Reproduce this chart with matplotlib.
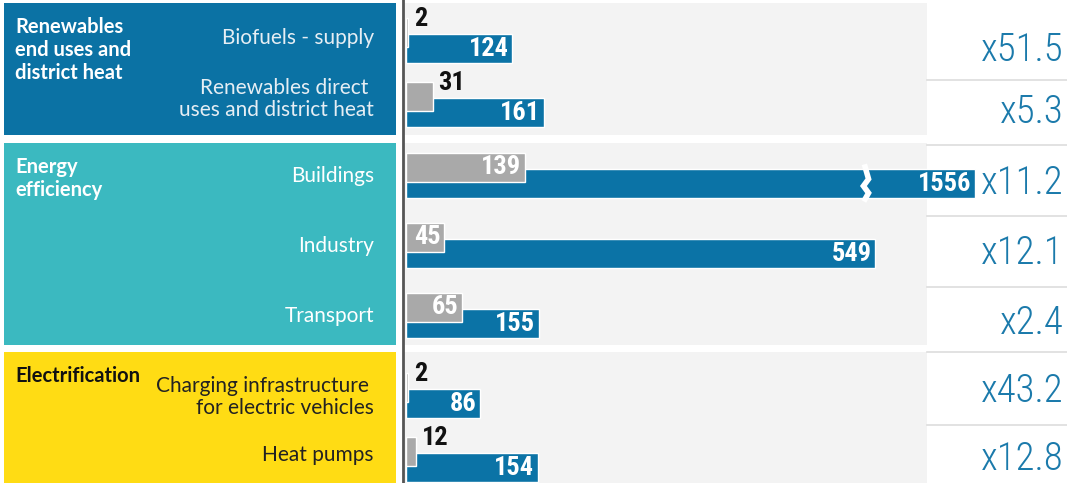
import matplotlib.pyplot as plt
from matplotlib.patches import Rectangle
from matplotlib import font_manager

# data
groups = ["Renewables\nend uses and\ndistrict heat", "Energy\nefficiency", "Electrification"]
rows = ["Biofuels - supply",
        "Renewables direct \nuses and district heat",
        "Buildings", "Industry", "Transport",
        "Charging infrastructure \nfor electric vehicles",
        "Heat pumps"]
before = [2, 31, 139, 45, 65, 2, 12]          # grey bars
after = [124, 161, 1556, 549, 155, 86, 154]   # blue bars
multiplier = ["x51.5", "x5.3", "x11.2", "x12.1", "x2.4", "x43.2", "x12.8"]

# styling / layout (pixel coordinates of a 1067x483 canvas)
W, H = 1067, 483
group_box = [(3, 135), (143, 345), (352, 483)]
group_col = ["#0b72a4", "#3bb9c0", "#ffdc14"]
group_txt = ["white", "white", "#111111"]
row_txt = ["#e6eef4", "#e6eef4", "white", "white", "white", "#222222", "#222222"]
row_y = [48, 112, 183, 253, 323, 403, 467]
label_y = [38, 99, 176, 246, 316, 397, 455]
mult_y = [50, 112, 183, 253, 323, 391, 459]
sep_y = [80, 145, 216, 287, 352, 425]
BLUE = "#0b73a6"
GREY = "#a9a9a9"
px_per_unit = 0.855
cap = 665      # longest bar drawn before breaking
break_at = 537

weights = {}
for f in font_manager.fontManager.ttflist:
    weights.setdefault(f.name, set()).add(f.weight if isinstance(f.weight, int) else 400)


def pick(cands, need):
    for c in cands:
        if c in weights and all(any(abs(w - n) <= 100 for w in weights[c]) for n in need):
            return c
    return "DejaVu Sans"


cond = pick(["Roboto Condensed", "Barlow Condensed", "Asap Condensed",
             "Archivo Narrow", "Sofia Sans Condensed"], (300, 700))
sans = pick(["Lato", "Open Sans", "Noto Sans"], (400, 700))

fig = plt.figure(figsize=(W / 100, H / 100), dpi=100)
bg = fig.add_axes([0, 0, 1, 1])
bg.set_xlim(0, W)
bg.set_ylim(H, 0)
bg.axis("off")

for (y0, y1), c in zip(group_box, group_col):
    bg.add_patch(Rectangle((4, y0), 392, y1 - y0, color=c, lw=0))
    bg.add_patch(Rectangle((404, y0), 523, y1 - y0, color="#f3f3f3", lw=0))
for y in sep_y:
    bg.plot([927, W], [y, y], color="#dddddd", lw=1.2)
bg.plot([403, 403], [0, H], color="#555555", lw=2)

for g, (y0, y1) in enumerate(group_box):
    bg.text(15, y0 + 14, groups[g], color=group_txt[g], fontsize=14.5,
            family=sans, fontweight="bold", va="top", ha="left", linespacing=1.2)
for i, r in enumerate(rows):
    bg.text(374, label_y[i], r, color=row_txt[i], fontsize=15, family=sans,
            ha="right", va="center", multialignment="right", linespacing=1.15)
    bg.text(1064, mult_y[i], multiplier[i], color="#1b7aab", fontsize=28,
            family=cond, fontweight="light", ha="right", va="center")

# bars
ax = fig.add_axes([406 / W, 0, (W - 406) / W, 1])
ax.set_xlim(0, (W - 406) / px_per_unit)
ax.set_ylim(H, 0)
ax.axis("off")

shown = [min(v, cap) for v in after]
ax.barh(row_y, shown, height=29, color=BLUE, edgecolor="white", lw=1, zorder=2)
gy = [y - 16 for y in row_y]
ax.barh(gy, before, height=29, color=GREY, edgecolor="white", lw=1, zorder=3)

for i, v in enumerate(after):
    ax.text(shown[i] - 4, row_y[i] + 1, str(v), color="white", fontsize=19,
            fontweight="bold", family=cond, ha="right", va="center", zorder=5)
    if v > cap:
        bx = break_at
        ax.plot([bx, bx + 4, bx - 2, bx + 4, bx], [row_y[i] - 16, row_y[i] - 4,
                row_y[i] + 3, row_y[i] + 10, row_y[i] + 16],
                color="white", lw=4, zorder=4, solid_joinstyle="miter")

for i, v in enumerate(before):
    if v >= 30 and i != 1:
        ax.text(v - 4, gy[i], str(v), color="white", fontsize=19,
                fontweight="bold", family=cond, ha="right", va="center", zorder=5)
    else:
        ax.text(v + 7, gy[i] - 13, str(v), color="#111111", fontsize=19,
                fontweight="bold", family=cond, ha="left", va="center", zorder=5)

fig.savefig("out.png", dpi=100)
